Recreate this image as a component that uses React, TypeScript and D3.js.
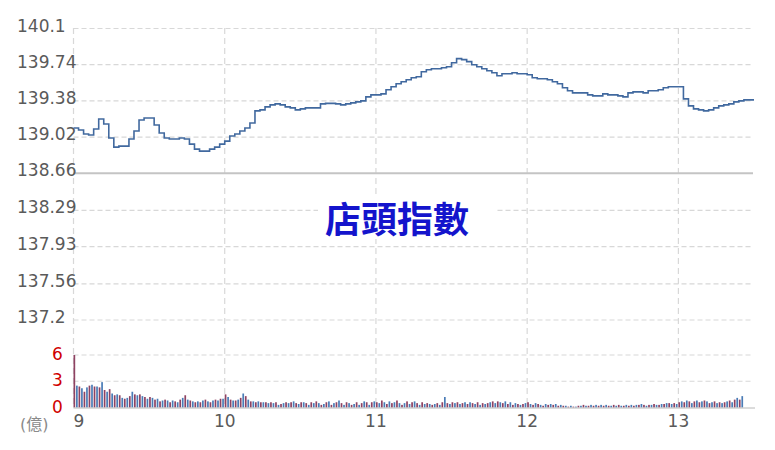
import React from "react";
import * as d3 from "d3";

// Price sampled every 2 minutes from 9:00 (minute 0) to 13:30 (minute 270)
const priceMinutesStep = 2;
const priceValues: number[] = [
  139.11, 139.09, 139.05, 139.04, 139.1, 139.2, 139.15, 139.01, 138.92, 138.93,
  138.93, 139.0, 139.08, 139.19, 139.21, 139.21, 139.14, 139.06, 139.01, 139.0,
  139.0, 139.01, 139.0, 138.95, 138.9, 138.88, 138.88, 138.9, 138.92, 138.95,
  138.98, 139.03, 139.05, 139.08, 139.11, 139.16, 139.28, 139.29, 139.32, 139.34,
  139.35, 139.34, 139.32, 139.31, 139.29, 139.3, 139.31, 139.31, 139.31, 139.35,
  139.355, 139.355, 139.35, 139.34, 139.35, 139.36, 139.37, 139.38, 139.42, 139.44,
  139.44, 139.45, 139.49, 139.52, 139.55, 139.57, 139.59, 139.61, 139.62, 139.67,
  139.69, 139.7, 139.7, 139.71, 139.72, 139.76, 139.8, 139.79, 139.77, 139.74,
  139.72, 139.7, 139.68, 139.66, 139.63, 139.65, 139.65, 139.66, 139.65, 139.65,
  139.64, 139.61, 139.6, 139.6, 139.59, 139.57, 139.55, 139.51, 139.48, 139.46,
  139.46, 139.46, 139.44, 139.43, 139.43, 139.45, 139.44, 139.44, 139.43, 139.42,
  139.46, 139.47, 139.47, 139.46, 139.48, 139.48, 139.49, 139.51, 139.52, 139.52,
  139.52, 139.4, 139.33, 139.3, 139.29, 139.28, 139.29, 139.31, 139.33, 139.34,
  139.35, 139.37, 139.38, 139.39, 139.39, 139.39,
];

// Volume (億) per minute from 9:00
const volumeValues: number[] = [
  6.0,
  2.5, 2.4, 2.2, 1.8, 2.3, 2.5, 2.6, 2.4, 2.4, 2.3, 2.9, 2.0, 1.8, 2.1, 1.6,
  1.4, 1.5, 1.4, 1.1, 1.0, 1.1, 1.3, 1.8, 1.5, 1.4, 1.5, 1.3, 1.2, 1.0, 1.2,
  1.1, 0.9, 1.0, 0.7, 0.8, 0.9, 0.8, 0.6, 0.8, 0.7, 0.6, 0.9, 1.1, 1.4, 0.9,
  0.8, 0.7, 0.6, 0.7, 0.6, 0.8, 0.9, 0.7, 0.6, 0.8, 0.9, 0.8, 1.0, 1.0, 1.5,
  1.2, 0.9, 0.8, 0.8, 0.9, 1.1, 1.6, 1.3, 0.9, 0.7, 0.7, 0.6, 0.7, 0.6, 0.6,
  0.6, 0.5, 0.6, 0.5, 0.6, 0.3, 0.4, 0.5, 0.6, 0.5, 0.6, 0.7, 0.5, 0.4, 0.6,
  0.6, 0.5, 0.3, 0.6, 0.5, 0.7, 0.5, 0.3, 0.4, 0.6, 0.7, 0.3, 0.5, 0.6, 0.8,
  0.5, 0.3, 0.6, 0.5, 0.3, 0.4, 0.6, 0.3, 0.5, 0.7, 0.6, 0.3, 0.6, 0.7, 0.6,
  0.5, 0.8, 0.6, 0.4, 0.7, 0.5, 0.6, 0.8, 0.5, 0.3, 0.5, 0.7, 0.4, 0.6, 0.7,
  0.5, 0.3, 0.6, 0.4, 0.5, 0.4, 0.3, 0.4, 0.5, 0.3, 0.6, 1.2, 0.5, 0.4, 0.6,
  0.5, 0.6, 0.4, 0.5, 0.6, 0.4, 0.6, 0.5, 0.4, 0.6, 0.3, 0.5, 0.4, 0.5, 0.6,
  0.7, 0.5, 0.7, 0.6, 0.5, 0.7, 0.4, 0.6, 0.3, 0.5, 0.4, 0.3, 0.4, 0.5, 0.6,
  0.4, 0.3, 0.5, 0.4, 0.3, 0.2, 0.4, 0.3, 0.4, 0.3, 0.4, 0.2, 0.3, 0.2, 0.2,
  0.1, 0.2, 0.1, 0.1, 0.2, 0.2, 0.3, 0.2, 0.2, 0.3, 0.2, 0.3, 0.2, 0.3, 0.2,
  0.3, 0.2, 0.2, 0.3, 0.2, 0.3, 0.2, 0.2, 0.3, 0.2, 0.3, 0.2, 0.3, 0.3, 0.4,
  0.3, 0.2, 0.3, 0.3, 0.4, 0.3, 0.3, 0.4, 0.4, 0.5, 0.5, 0.4, 0.5, 0.4, 0.6,
  0.7, 0.6, 0.8, 0.7, 0.5, 0.7, 0.8, 0.6, 0.7, 0.8, 0.7, 0.5, 0.6, 0.7, 0.5,
  0.6, 0.5, 0.6, 0.7, 0.8, 0.6, 0.9, 1.1, 0.9, 1.3,
];

const priceTicks: number[] = [140.1, 139.74, 139.38, 139.02, 138.66, 138.29, 137.93, 137.56, 137.2];
const priceTickLabels: string[] = ["140.1", "139.74", "139.38", "139.02", "138.66", "138.29", "137.93", "137.56", "137.2"];
const referencePrice = 138.66;
const volumeTicks: number[] = [6, 3, 0];
const hourTicks: number[] = [0, 60, 120, 180, 240];
const hourLabels: string[] = ["9", "10", "11", "12", "13"];
const title = "店頭指數";
const volumeUnit = "(億)";

const W = 775;
const H = 450;

export default function App() {
  const x = d3.scaleLinear().domain([0, 270]).range([73.5, 754]);
  const y = d3.scaleLinear().domain([137.2, 140.1]).range([320, 28.5]);
  const yv = d3.scaleLinear().domain([0, 6]).range([407.5, 355]);

  const pts = priceValues.map((v, i) => [i * priceMinutesStep, v] as [number, number]);
  const line = d3
    .line<[number, number]>()
    .x((d) => x(d[0]))
    .y((d) => y(d[1]))
    .curve(d3.curveStepAfter);

  const gridColor = "#d8d8d8";
  const labelFont = "'DejaVu Sans', Verdana, sans-serif";
  const gridRight = 752;

  return (
    <svg width={W} height={H} style={{ position: "absolute", left: 0, top: 0, background: "#fff" }}>
      {/* horizontal price grid */}
      {priceTicks.map((t, i) =>
        t === referencePrice ? null : (
          <line key={"hg" + i} x1={x(0)} x2={gridRight} y1={y(t)} y2={y(t)} stroke={gridColor} strokeWidth={1.2} strokeDasharray="5,3" />
        )
      )}
      {/* volume grid */}
      {volumeTicks.filter((t) => t > 0).map((t, i) => (
        <line key={"vg" + i} x1={x(0)} x2={gridRight} y1={yv(t)} y2={yv(t)} stroke={gridColor} strokeWidth={1.2} strokeDasharray="5,3" />
      ))}
      {/* vertical grid */}
      {hourTicks.map((t, i) => (
        <line key={"vt" + i} x1={x(t)} x2={x(t)} y1={28} y2={408} stroke={gridColor} strokeWidth={1.2} strokeDasharray="6,4" />
      ))}
      {/* reference line */}
      <line x1={x(0)} x2={gridRight + 1} y1={y(referencePrice)} y2={y(referencePrice)} stroke="#c4c4c4" strokeWidth={2} />
      {/* title box */}
      <rect x={318} y={196} width={178} height={43} fill="#fff" />
      <text x={397} y={233} textAnchor="middle" fontFamily="'Noto Sans CJK TC', sans-serif" fontWeight={700} fontSize={36} fill="#1414cc">
        {title}
      </text>
      {/* price line */}
      <path d={line(pts) || ""} fill="none" stroke="#41699f" strokeWidth={1.6} />
      {/* volume bars */}
      {volumeValues.map((v, i) => (
        <rect
          key={"vb" + i}
          x={x(i)}
          y={yv(v)}
          width={1.7}
          height={yv(0) - yv(v)}
          fill={i % 2 === 0 ? "#8e4262" : "#4a7cb6"}
        />
      ))}
      {/* volume baseline */}
      <line x1={x(0)} x2={755} y1={yv(0) + 0.5} y2={yv(0) + 0.5} stroke="#b8b8b8" strokeWidth={1} />
      {/* price labels */}
      {priceTicks.map((t, i) => (
        <text key={"pl" + i} x={17} y={y(t) + 3} fontFamily={labelFont} fontSize={17} fill="#5a5a5a">
          {priceTickLabels[i]}
        </text>
      ))}
      {/* volume labels */}
      {volumeTicks.map((t, i) => (
        <text key={"vl" + i} x={52} y={yv(t) + 5} fontFamily={labelFont} fontSize={17} fill="#d00000">
          {String(t)}
        </text>
      ))}
      {/* hour labels */}
      {hourTicks.map((t, i) => (
        <text
          key={"hl" + i}
          x={x(t)}
          y={427}
          textAnchor={i === 0 ? "start" : "middle"}
          fontFamily={labelFont}
          fontSize={17}
          fill="#5a5a5a"
        >
          {hourLabels[i]}
        </text>
      ))}
      <text x={20} y={430} fontFamily="'DejaVu Sans', 'Noto Sans CJK TC', sans-serif" fontSize={16} fill="#8a8a8a">
        {volumeUnit}
      </text>
    </svg>
  );
}
